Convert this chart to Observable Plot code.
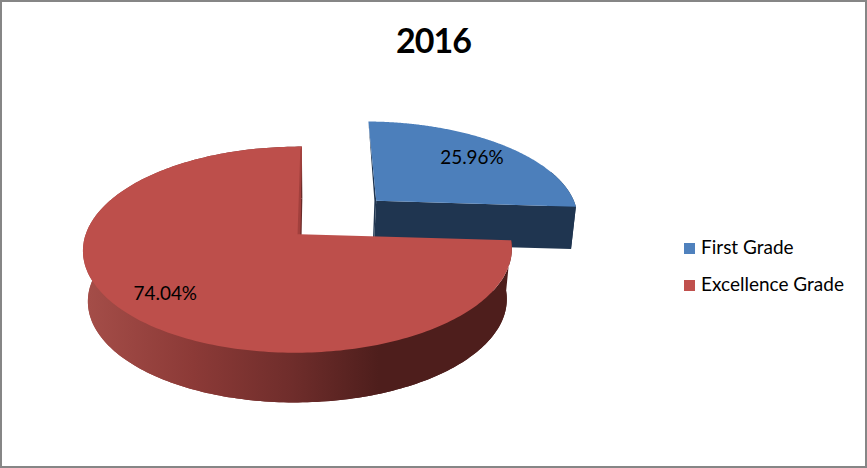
<!DOCTYPE html>
<html><head><meta charset="utf-8">
<script src="https://cdn.jsdelivr.net/npm/d3@7"></script>
<script src="https://cdn.jsdelivr.net/npm/@observablehq/plot@0.6"></script>
<style>
html,body{margin:0;padding:0;background:#fff}
#chart{position:relative;width:867px;height:468px;box-sizing:border-box;border:2px solid #868686;overflow:hidden;font-family:Lato,sans-serif;color:#000}
#chart svg{position:absolute;left:-2px;top:-2px}
#title{position:absolute;left:-2px;top:16px;width:867px;text-align:center;font-size:34px;letter-spacing:-1px;font-weight:700;line-height:44px}
.leg{position:absolute;left:682px;font-size:19px;line-height:22px;white-space:nowrap}
.leg i{display:inline-block;width:11px;height:11px;margin-right:6px}
</style></head><body>
<div id="chart"><div id="title">2016</div></div>
<script>
const title = "2016";
const categories = ["First Grade", "Excellence Grade"];
const values = [25.96, 74.04];
const labels = ["25.96%", "74.04%"];
const topColors = ["#4c7fbb", "#bd4f4b"];
const swatchColors = ["#4f81bd", "#c0504d"];
const sliverColors = ["#1f3550", "#a2403d"];
const cutColors = ["#1f3550", "#4e1e1c"];
const wallColors = ["#1f3550", "url(#redWall)"];
const explodeTop = [[0.376, -0.35], [0, 0]];
const explodeBottom = [[0.376, -0.45], [0, 0]];
const bottomRadius = [1.03, 1];
const wallStart = [70, 90];
const labelRadius = [0.74, 0.79];
const gradStops = [[89,"#a44d48"],[193,"#8c3a37"],[293,"#6f2d2b"],[380,"#4e1e1c"]];

// Perspective projection of the pie's top and bottom planes
const topPlane = {ax:301, ay:234.8, bx:213, c:101.2, s:-2, k:0.15, m:0.011};
const botPlane = {ax:301.5, ay:285.8, bx:208, c:100.3, s:-2, k:0.15, m:0.014};
function project(P,u,v){const w=1-P.k*v+P.m*u;return {x:P.ax+(P.bx*u+P.s*v)/w,y:P.ay+P.c*v/w};}

const total = d3.sum(values);
const deg = Math.PI/180;
let run = 0;
const slices = values.map((val,i)=>{const a0=run/total*2*Math.PI;run+=val;return {i,a0,a1:run/total*2*Math.PI};});
function rim(P,off,r,a0,a1,n=240){
  const pts=[];
  for(let j=0;j<=n;j++){const a=a0+(a1-a0)*j/n;pts.push(project(P,off[0]+r*Math.sin(a),off[1]-r*Math.cos(a)));}
  return pts;
}
const poly=(pts,fill)=>Plot.line(pts,{x:"x",y:"y",fill,stroke:"none",curve:"linear-closed"});

// blue slice: lifted out; its cut face toward the viewer and a thin dark sliver on the left
const sb=slices[0], et0=explodeTop[0], eb0=explodeBottom[0];
const tb=rim(topPlane,et0,1,sb.a0,sb.a1);
const wbT=rim(topPlane,et0,1,Math.max(sb.a0,wallStart[0]*deg),sb.a1);
const wbB=rim(botPlane,eb0,bottomRadius[0],Math.max(sb.a0,wallStart[0]*deg),sb.a1);
const atb=project(topPlane,et0[0],et0[1]), abb=project(botPlane,eb0[0],eb0[1]);
const blueMarks=[
  poly([...wbT,...wbB.slice().reverse()],wallColors[0]),
  poly([atb,tb[tb.length-1],wbB[wbB.length-1],abb],cutColors[0]),
  poly([tb[0],project(topPlane,et0[0]-0.009,et0[1]),project(botPlane,eb0[0]-0.006,eb0[1]),abb,atb],sliverColors[0]),
  poly([atb,...tb],topColors[0])
];

// red slice
const sr=slices[1], et1=explodeTop[1], eb1=explodeBottom[1];
const tr=rim(topPlane,et1,1,sr.a0,sr.a1);
const br=rim(botPlane,eb1,bottomRadius[1],sr.a0,sr.a1);
const atr=project(topPlane,et1[0],et1[1]), abr=project(botPlane,eb1[0],eb1[1]);
const endPt=tr[tr.length-1];
const redMarks=[
  poly([abr,...br],wallColors[1]),
  poly([...tr,...br.slice().reverse()],wallColors[1]),
  poly([atr,...tr],topColors[1]),
  poly([endPt,atr,project(topPlane,et1[0]-0.012,et1[1]),project(topPlane,et1[0]-0.008,et1[1]-0.96)],sliverColors[1])
];

const labelRows=slices.map(s=>{
  const mid=(s.a0+s.a1)/2,r=labelRadius[s.i],[eu,ev]=explodeTop[s.i];
  return {...project(topPlane,eu+r*Math.sin(mid),ev-r*Math.cos(mid)),text:labels[s.i]};
});

const defs=()=>{
  const ns="http://www.w3.org/2000/svg";
  const d=document.createElementNS(ns,"defs"),g=document.createElementNS(ns,"linearGradient");
  g.setAttribute("id","redWall");g.setAttribute("gradientUnits","userSpaceOnUse");
  g.setAttribute("x1",gradStops[0][0]);g.setAttribute("x2",gradStops[gradStops.length-1][0]);g.setAttribute("y1",0);g.setAttribute("y2",0);
  const span=gradStops[gradStops.length-1][0]-gradStops[0][0];
  for(const [x,c] of gradStops){const st=document.createElementNS(ns,"stop");st.setAttribute("offset",(x-gradStops[0][0])/span);st.setAttribute("stop-color",c);g.appendChild(st);}
  d.appendChild(g);return d;
};

const plot=Plot.plot({
  width:867,height:468,margin:0,
  x:{domain:[0,867],range:[0,867],axis:null},
  y:{domain:[0,468],range:[0,468],axis:null},
  style:{background:"transparent",overflow:"visible"},
  marks:[
    defs,
    ...blueMarks,
    ...redMarks,
    Plot.text(labelRows,{x:"x",y:"y",text:"text",fontSize:19,fontFamily:"Lato",fill:"#000"})
  ]
});
const chart=document.getElementById("chart");
chart.insertBefore(plot,chart.firstChild);
categories.forEach((c,i)=>{
  const el=document.createElement("div");el.className="leg";el.style.top=(234+37*i)+"px";
  const sw=document.createElement("i");sw.style.background=swatchColors[i];
  el.appendChild(sw);el.appendChild(document.createTextNode(c));chart.appendChild(el);
});
document.getElementById("title").textContent=title;
</script>
</body></html>
